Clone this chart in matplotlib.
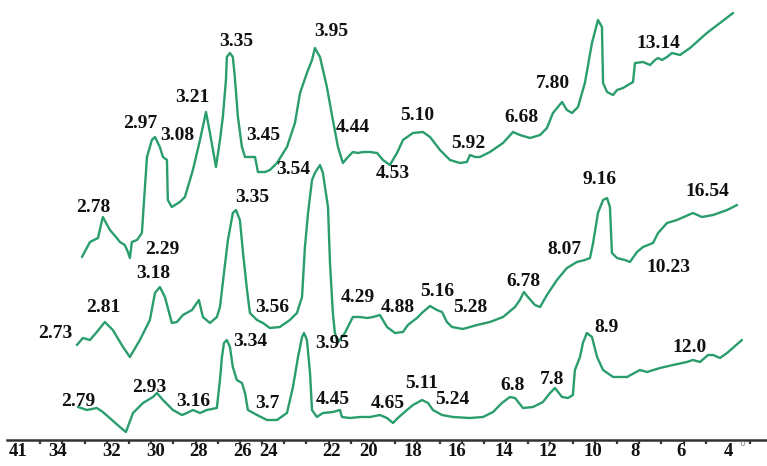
import matplotlib
matplotlib.use("Agg")
import matplotlib.pyplot as plt
from matplotlib.ticker import FixedLocator, NullFormatter

# ---- data: 2-theta (deg) and intensity (arbitrary units, already offset) ----
top_x = [33.12, 32.76, 32.40, 32.18, 31.86, 31.55, 31.41, 31.19, 31.05, 30.96, 30.87, 30.64, 30.42,
         30.19, 29.97, 29.83, 29.61, 29.47, 29.29, 29.25, 29.07, 28.71, 28.48, 28.12, 27.80, 27.53,
         27.35, 27.08, 26.90, 26.77, 26.63, 26.59, 26.45, 26.32, 26.23, 26.09, 25.91, 25.77, 25.46,
         25.32, 25.23, 25.19, 24.87, 24.65, 24.33, 23.88, 23.52, 23.29, 22.98, 22.75, 22.62, 22.39,
         22.08, 21.81, 21.58, 21.36, 21.13, 20.91, 20.68, 20.45, 20.14, 19.82, 19.55, 19.24, 18.92,
         18.65, 18.20, 17.75, 17.43, 16.98, 16.53, 16.08, 15.77, 15.63, 15.40, 15.18, 14.73, 14.14,
         13.69, 13.38, 12.92, 12.47, 12.16, 11.89, 11.48, 11.26, 11.03, 10.76, 10.45, 10.13, 9.86,
         9.68, 9.63, 9.45, 9.18, 9.00, 8.73, 8.28, 8.19, 7.83, 7.51, 7.29, 7.15, 6.97, 6.75, 6.52,
         6.16, 5.71, 4.95, 3.77]
top_y = [183, 198, 202, 223, 210, 202, 198, 195, 188, 182, 198, 200, 207,
         283, 300, 303, 293, 283, 280, 240, 233, 238, 243, 270, 300, 328,
         307, 273, 300, 323, 360, 383, 387, 383, 363, 323, 293, 283, 283,
         283, 273, 268, 268, 270, 277, 293, 317, 347, 367, 380, 392, 383,
         353, 320, 293, 277, 283, 288, 287, 288, 288, 287, 280, 275, 287,
         300, 307, 308, 303, 290, 280, 277, 278, 285, 283, 283, 288, 297,
         308, 305, 302, 305, 312, 327, 338, 330, 327, 333, 357, 397, 420,
         413, 357, 348, 345, 350, 352, 358, 377, 378, 375, 380, 382, 380, 383, 387,
         385, 392, 407, 427]

mid_x = [33.35, 33.08, 32.76, 32.45, 32.09, 31.73, 31.27, 30.96, 30.51, 30.06, 29.83, 29.61, 29.38,
         29.07, 28.84, 28.57, 28.16, 27.85, 27.67, 27.35, 27.04, 26.90, 26.72, 26.54, 26.32, 26.18,
         26.00, 25.86, 25.68, 25.55, 25.23, 24.96, 24.65, 24.20, 23.75, 23.43, 23.20, 23.07, 22.93,
         22.75, 22.62, 22.39, 22.26, 22.03, 21.94, 21.81, 21.72, 21.58, 21.27, 20.91, 20.59, 20.27,
         20.00, 19.69, 19.37, 19.01, 18.65, 18.43, 18.02, 17.75, 17.43, 17.12, 16.89, 16.67, 16.44,
         15.95, 15.31, 14.73, 14.14, 13.60, 13.38, 13.20, 13.02, 12.70, 12.47, 12.16, 11.71, 11.26,
         10.81, 10.45, 10.22, 10.08, 9.86, 9.63, 9.45, 9.32, 9.23, 9.00, 8.64, 8.42, 8.10, 7.83,
         7.38, 7.15, 6.75, 6.30, 5.58, 5.17, 4.67, 4.04, 3.59]
mid_y = [95, 102, 100, 108, 118, 110, 93, 83, 100, 120, 147, 153, 143,
         117, 118, 125, 130, 140, 123, 117, 123, 133, 167, 200, 227, 230,
         220, 187, 150, 127, 120, 117, 112, 113, 120, 127, 143, 193, 227,
         260, 267, 275, 267, 233, 177, 127, 107, 98, 107, 123, 123, 122,
         123, 125, 113, 107, 108, 115, 122, 128, 134, 130, 128, 118, 113,
         111, 115, 118, 123, 133, 140, 148, 143, 135, 133, 145, 160, 172,
         178, 180, 182, 197, 227, 240, 242, 233, 187, 182, 180, 178, 188, 193,
         197, 207, 217, 220, 227, 223, 225, 230, 235]

bot_x = [33.30, 32.90, 32.45, 32.18, 31.77, 31.41, 31.14, 30.82, 30.37, 29.92, 29.74, 29.47, 29.02,
         28.61, 28.39, 28.12, 27.80, 27.49, 27.04, 26.90, 26.81, 26.72, 26.59, 26.45, 26.32, 26.14,
         25.91, 25.77, 25.64, 25.23, 24.78, 24.33, 23.88, 23.61, 23.38, 23.20, 23.11, 22.98, 22.84,
         22.75, 22.53, 22.26, 21.81, 21.49, 21.40, 21.04, 20.59, 20.14, 19.69, 19.37, 19.10, 18.88,
         18.47, 18.20, 17.79, 17.52, 17.30, 16.89, 16.40, 15.63, 15.04, 14.59, 14.19, 13.83, 13.60,
         13.24, 12.79, 12.34, 12.02, 11.80, 11.48, 11.21, 10.99, 10.90, 10.67, 10.54, 10.36, 10.13,
         9.90, 9.63, 9.18, 8.55, 7.97, 7.65, 7.06, 6.48, 5.85, 5.58, 5.26, 4.90, 4.67, 4.36, 4.04, 3.37]
bot_y = [33, 30, 32, 28, 20, 13, 8, 27, 37, 43, 47, 40, 30,
         25, 27, 30, 27, 30, 32, 60, 83, 97, 100, 93, 73, 60,
         57, 47, 30, 25, 20, 20, 27, 53, 83, 103, 107, 100, 67,
         30, 23, 27, 28, 30, 23, 22, 23, 23, 25, 22, 17, 22,
         30, 35, 40, 37, 30, 25, 23, 22, 23, 28, 37, 43, 42,
         32, 33, 38, 47, 52, 43, 42, 45, 70, 83, 97, 107, 103,
         83, 70, 63, 63, 70, 68, 72, 75, 78, 80, 78, 85, 85, 82, 87, 100]

# peak labels (d-spacings): text, 2-theta, intensity
top_labels = [("2.78", 32.63, 232), ("2.29", 29.52, 190), ("2.97", 30.51, 316), ("3.08", 28.84, 304),
              ("3.21", 28.16, 343), ("3.35", 26.18, 399), ("3.45", 24.96, 304), ("3.95", 21.90, 408),
              ("4.44", 20.91, 312), ("4.53", 19.10, 266), ("5.10", 18.02, 325), ("5.92", 15.72, 297),
              ("6.68", 13.29, 323), ("7.80", 11.89, 357), ("13.14", 7.15, 397)]
mid_labels = [("3.54", 23.61, 270), ("3.35", 25.46, 243), ("2.81", 32.18, 132), ("2.73", 34.34, 107),
              ("3.18", 29.92, 166), ("3.56", 24.56, 132), ("4.29", 20.68, 142), ("4.88", 18.88, 132),
              ("5.16", 17.12, 148), ("5.28", 15.63, 133), ("6.78", 13.24, 158), ("8.07", 11.35, 190),
              ("9.16", 9.77, 260), ("16.54", 4.95, 248), ("10.23", 6.70, 173)]
bot_labels = [("3.34", 25.55, 99), ("3.95", 21.85, 97), ("2.79", 33.30, 38), ("2.93", 30.10, 53),
              ("3.16", 28.12, 38), ("3.7", 24.78, 36), ("4.45", 21.81, 40), ("4.65", 19.33, 37),
              ("5.11", 17.79, 57), ("5.24", 16.44, 40), ("6.8", 13.69, 54), ("7.8", 11.93, 60),
              ("8.9", 9.45, 113), ("12.0", 5.71, 93)]

tick_pos = [36.0, 34.2, 31.8, 29.8, 27.85, 25.9, 24.7, 21.85, 20.2, 18.2, 16.2, 14.1, 12.1, 10.1, 8.2, 6.1, 4.0]
tick_labels = ["41", "34", "32", "30", "28", "26", "24", "22", "20", "18", "16", "14", "12", "10", "8", "6", "4"]
minor_ticks = list(range(3, 37))

# ---- drawing ----
GREEN = "#2A9D6C"
FONT = "Liberation Serif"

fig = plt.figure(figsize=(7.67, 4.66), dpi=100)
ax = fig.add_axes([7 / 767, 26 / 466, 760 / 767, 440 / 466])

for xs, ys in [(top_x, top_y), (mid_x, mid_y), (bot_x, bot_y)]:
    ax.plot(xs, ys, color=GREEN, lw=1.7, solid_joinstyle="round", solid_capstyle="round")

for labels in (top_labels, mid_labels, bot_labels):
    for txt, x, y in labels:
        ax.text(x, y, txt, ha="center", va="center", fontsize=14,
                fontweight="bold", family=FONT, color="#111111")

ax.set_xlim(36.5, 2.24)
ax.set_ylim(0, 440)

for s in ("top", "right", "left"):
    ax.spines[s].set_visible(False)
ax.spines["bottom"].set_linewidth(1.8)
ax.spines["bottom"].set_color("#333333")
ax.set_yticks([])

ax.xaxis.set_major_locator(FixedLocator(tick_pos))
ax.set_xticklabels(tick_labels)
ax.xaxis.set_minor_locator(FixedLocator(minor_ticks))
ax.xaxis.set_minor_formatter(NullFormatter())
ax.tick_params(axis="x", which="major", length=0, pad=2.5)
ax.tick_params(axis="x", which="minor", length=3, width=1.6, color="#333333", direction="out")
for lab in ax.get_xticklabels():
    lab.set_fontfamily(FONT)
    lab.set_fontweight("bold")
    lab.set_fontsize(13.5)
    lab.set_color("#111111")

ax.text(3.37, -8, "°", ha="center", va="center", fontsize=11, family=FONT,
        color="#777777", clip_on=False)

fig.savefig("out.png", dpi=100)
